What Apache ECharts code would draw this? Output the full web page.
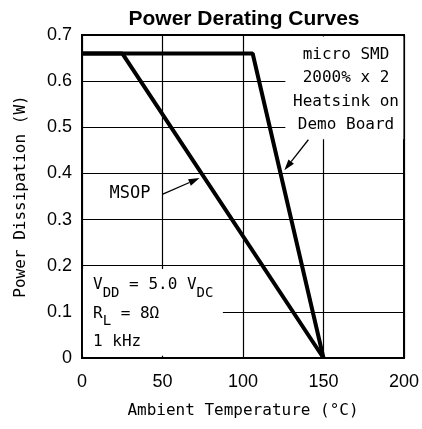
<!DOCTYPE html>
<html>
<head>
<meta charset="utf-8">
<script src="https://cdn.jsdelivr.net/npm/echarts@6/dist/echarts.min.js"></script>
<style>
  html, body { margin: 0; padding: 0; background: #fff; }
  #chart { width: 422px; height: 429px; }
</style>
</head>
<body>
<div id="chart"></div>
<script>
// derating curves: [temperature degC, power W]
const smdCurve = [[0, 0.66], [106, 0.66], [150, 0]]
const msopCurve = [[0, 0.66], [25, 0.66], [150, 0]]
const xTicks = [0, 50, 100, 150, 200]
const yTicks = [0, 0.1, 0.2, 0.3, 0.4, 0.5, 0.6, 0.7]
const smdLabel = ['micro SMD', '2000% x 2', 'Heatsink on', 'Demo Board']
const condLabel = ['{n|V}{s|DD}{n| = 5.0 V}{s|DC}', '{n|R}{s|L}{n| = 8\u03a9}', '{n|1 kHz}']

const mono = 'DejaVu Sans Mono'
const sans = 'Liberation Sans'

const myChart = echarts.init(document.getElementById('chart'))

const lineSeries = (name, data) => ({
    name: name,
    type: 'line',
    data: data,
    symbol: 'none',
    z: 5,
    lineStyle: { color: '#000', width: 4 }
})

const option = {
    animation: false,
    title: {
        text: 'Power Derating Curves',
        left: 239,
        top: 4,
        textAlign: 'center',
        textStyle: { fontFamily: sans, fontWeight: 'bold', fontSize: 21, color: '#000' }
    },
    grid: {
        left: 82, right: 16, top: 35, bottom: 71,
        show: true, borderColor: '#000', borderWidth: 2, backgroundColor: 'transparent'
    },
    xAxis: {
        type: 'value',
        min: xTicks[0], max: xTicks[xTicks.length - 1], interval: 50,
        name: 'Ambient Temperature (\u00b0C)',
        nameLocation: 'middle',
        nameGap: 45,
        nameTextStyle: { fontFamily: mono, fontSize: 16, color: '#000' },
        axisLine: { show: false },
        axisTick: { show: false },
        axisLabel: { margin: 15, fontFamily: sans, fontSize: 18, color: '#000' },
        splitLine: { show: true, lineStyle: { color: '#000', width: 1.2 } }
    },
    yAxis: {
        type: 'value',
        min: yTicks[0], max: yTicks[yTicks.length - 1], interval: 0.1,
        name: 'Power Dissipation (W)',
        nameLocation: 'middle',
        nameGap: 53,
        nameTextStyle: { fontFamily: mono, fontSize: 16, color: '#000' },
        axisLine: { show: false },
        axisTick: { show: false },
        axisLabel: {
            margin: 10, fontFamily: sans, fontSize: 18, color: '#000',
            formatter: v => v === 0 ? '0' : v.toFixed(1)
        },
        splitLine: { show: true, lineStyle: { color: '#000', width: 1.2 } }
    },
    series: [lineSeries('micro SMD', smdCurve), lineSeries('MSOP', msopCurve)]
}
myChart.setOption(option)

// annotations, anchored in data coords
const px = p => myChart.convertToPixel({ gridIndex: 0 }, p)
const arrow = (from, to) => {
    const a = px(from), b = px(to)
    const ang = Math.atan2(b[1] - a[1], b[0] - a[0])
    const L = 11, W = 3.5
    const bx = b[0] - L * Math.cos(ang), by = b[1] - L * Math.sin(ang)
    const nx = -Math.sin(ang) * W, ny = Math.cos(ang) * W
    return [
        { type: 'line', z: 20, shape: { x1: a[0], y1: a[1], x2: bx, y2: by }, style: { stroke: '#000', lineWidth: 1.3 } },
        { type: 'polygon', z: 20, shape: { points: [[b[0], b[1]], [bx + nx, by + ny], [bx - nx, by - ny]] }, style: { fill: '#000' } }
    ]
}

const tl = px([126.3, 0.7]), br = px([200, 0.474])
const cl = px([0.6, 0.193]), cr = px([87.5, 0.005])

const rich = {
    n: { fontFamily: mono, fontSize: 16, lineHeight: 20, verticalAlign: 'top' },
    s: { fontFamily: mono, fontSize: 14, lineHeight: 16, verticalAlign: 'top', padding: [9, 0, 0, 0] }
}
const condRows = condLabel.map((t, i) => ({
    type: 'text', z: 15, x: 93, y: 277 + i * 28.5,
    style: { text: t, fill: '#000', rich: rich }
}))

const graphic = [
    { type: 'rect', z: 10, shape: { x: tl[0], y: tl[1] + 1.5, width: br[0] - tl[0] - 0.6, height: br[1] - tl[1] - 1.5 }, style: { fill: '#fff' } },
    { type: 'rect', z: 10, shape: { x: cl[0], y: cl[1], width: cr[0] - cl[0], height: cr[1] - cl[1] }, style: { fill: '#fff' } },
    {
        type: 'text', z: 15, x: 346, y: 43,
        style: {
            text: smdLabel.join('\n'), fontFamily: mono, fontSize: 16, lineHeight: 23.5,
            fill: '#000', align: 'center', verticalAlign: 'top'
        }
    },
    {
        type: 'text', z: 15, x: 130, y: 194,
        style: { text: 'MSOP', fontFamily: mono, fontSize: 17, fill: '#000', align: 'center', verticalAlign: 'middle' }
    }
].concat(condRows, arrow([140.6, 0.473], [125.7, 0.407]), arrow([50.2, 0.355], [73, 0.39]))

myChart.setOption({ graphic: graphic })
</script>
</body>
</html>
